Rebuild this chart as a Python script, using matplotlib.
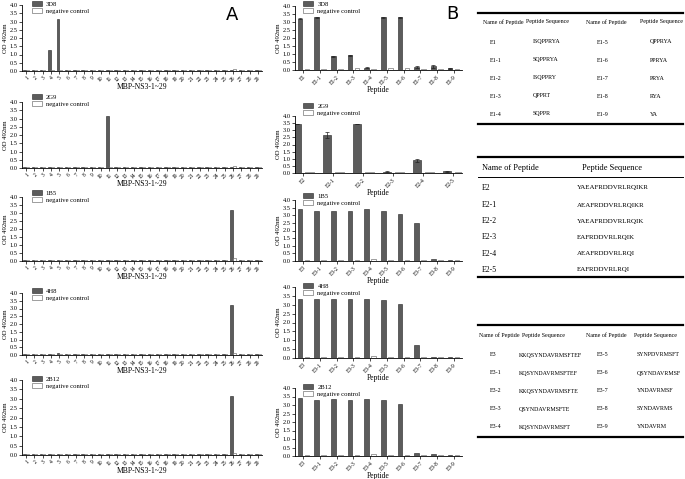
import matplotlib.pyplot as plt
import numpy as np
from matplotlib.lines import Line2D

plt.rcParams['font.family'] = ['Liberation Serif', 'DejaVu Serif']

W, H = 685, 479

# ---- panel A data: MBP-NS3-1~29 ----
a_ticks = [str(i) for i in range(1, 30)]
a_names = ['3D8', '2G9', '1B5', '4H8', '2B12']
a_3d8 = [0.08, 0.07, 0.06, 1.25, 3.15, 0.08, 0.06, 0.05, 0.06, 0.07, 0.06, 0.05, 0.07, 0.07, 0.06,
         0.06, 0.07, 0.06, 0.06, 0.05, 0.08, 0.07, 0.06, 0.06, 0.07, 0.07, 0.06, 0.07, 0.06]
a_3d8_nc = [0.05, 0.05, 0.04, 0.05, 0.06, 0.05, 0.04, 0.04, 0.05, 0.05, 0.04, 0.04, 0.05, 0.05, 0.04,
            0.05, 0.05, 0.04, 0.04, 0.05, 0.06, 0.05, 0.04, 0.05, 0.05, 0.14, 0.05, 0.05, 0.04]
a_2g9 = [0.06, 0.06, 0.05, 0.05, 0.08, 0.07, 0.05, 0.05, 0.07, 0.06, 3.15, 0.05, 0.07, 0.07, 0.06,
         0.05, 0.06, 0.05, 0.06, 0.05, 0.08, 0.07, 0.06, 0.05, 0.06, 0.07, 0.05, 0.05, 0.06]
a_2g9_nc = [0.05, 0.04, 0.04, 0.04, 0.05, 0.05, 0.04, 0.04, 0.05, 0.05, 0.05, 0.04, 0.05, 0.05, 0.04,
            0.04, 0.05, 0.04, 0.04, 0.05, 0.06, 0.05, 0.04, 0.04, 0.05, 0.15, 0.04, 0.04, 0.05]
a_1b5 = [0.08, 0.07, 0.07, 0.07, 0.08, 0.08, 0.07, 0.06, 0.07, 0.06, 0.06, 0.06, 0.07, 0.07, 0.07,
         0.07, 0.08, 0.06, 0.06, 0.07, 0.09, 0.07, 0.06, 0.07, 0.06, 3.2, 0.06, 0.06, 0.07]
a_1b5_nc = [0.05, 0.05, 0.05, 0.05, 0.06, 0.05, 0.05, 0.04, 0.05, 0.04, 0.04, 0.04, 0.05, 0.05, 0.05,
            0.05, 0.06, 0.04, 0.04, 0.05, 0.06, 0.05, 0.04, 0.05, 0.04, 0.16, 0.04, 0.04, 0.05]
a_4h8 = [0.08, 0.06, 0.06, 0.06, 0.1, 0.06, 0.05, 0.06, 0.08, 0.06, 0.06, 0.06, 0.08, 0.07, 0.06,
         0.06, 0.07, 0.06, 0.05, 0.05, 0.08, 0.06, 0.06, 0.06, 0.08, 3.25, 0.06, 0.06, 0.06]
a_4h8_nc = [0.05, 0.04, 0.04, 0.04, 0.07, 0.04, 0.04, 0.04, 0.05, 0.04, 0.04, 0.04, 0.05, 0.05, 0.04,
            0.04, 0.05, 0.04, 0.04, 0.04, 0.05, 0.04, 0.04, 0.04, 0.05, 0.14, 0.04, 0.04, 0.04]
a_2b12 = [0.06, 0.06, 0.05, 0.05, 0.07, 0.06, 0.05, 0.05, 0.06, 0.06, 0.05, 0.05, 0.06, 0.06, 0.06,
          0.05, 0.06, 0.05, 0.05, 0.05, 0.07, 0.06, 0.05, 0.05, 0.06, 3.15, 0.05, 0.05, 0.05]
a_2b12_nc = [0.04, 0.04, 0.04, 0.04, 0.05, 0.04, 0.04, 0.04, 0.04, 0.04, 0.04, 0.04, 0.05, 0.04, 0.04,
             0.04, 0.04, 0.04, 0.04, 0.04, 0.05, 0.04, 0.04, 0.04, 0.04, 0.13, 0.04, 0.04, 0.04]
a_vals = [a_3d8, a_2g9, a_1b5, a_4h8, a_2b12]
a_ncs = [a_3d8_nc, a_2g9_nc, a_1b5_nc, a_4h8_nc, a_2b12_nc]

# ---- panel B data ----
b1_ticks = ['E1', 'E1-1', 'E1-2', 'E1-3', 'E1-4', 'E1-5', 'E1-6', 'E1-7', 'E1-8', 'E1-9']
b1_3d8 = [3.2, 3.3, 0.85, 0.92, 0.15, 3.3, 3.3, 0.2, 0.22, 0.12]
b1_3d8_err = [0.02, 0.02, 0.03, 0.03, 0.03, 0.02, 0.02, 0.08, 0.1, 0.03]
b1_nc = [0.05, 0.07, 0.05, 0.1, 0.05, 0.1, 0.15, 0.05, 0.05, 0.05]

b2_ticks = ['E2', 'E2-1', 'E2-2', 'E2-3', 'E2-4', 'E2-5']
b2_2g9 = [3.45, 2.65, 3.43, 0.1, 0.9, 0.12]
b2_2g9_err = [0.02, 0.2, 0.02, 0.02, 0.1, 0.02]
b2_nc = [0.08, 0.1, 0.08, 0.07, 0.08, 0.07]

b3_ticks = ['E3', 'E3-1', 'E3-2', 'E3-3', 'E3-4', 'E3-5', 'E3-6', 'E3-7', 'E3-8', 'E3-9']
b3_1b5 = [3.4, 3.3, 3.3, 3.3, 3.4, 3.3, 3.1, 2.5, 0.1, 0.08]
b3_1b5_nc = [0.08, 0.06, 0.06, 0.06, 0.14, 0.06, 0.08, 0.05, 0.05, 0.05]
b4_4h8 = [3.35, 3.3, 3.35, 3.3, 3.32, 3.25, 3.05, 0.75, 0.08, 0.06]
b4_4h8_nc = [0.08, 0.05, 0.05, 0.05, 0.1, 0.06, 0.08, 0.05, 0.05, 0.04]
b5_2b12 = [3.4, 3.3, 3.35, 3.3, 3.35, 3.28, 3.05, 0.15, 0.12, 0.06]
b5_2b12_nc = [0.08, 0.05, 0.06, 0.06, 0.1, 0.07, 0.08, 0.05, 0.05, 0.04]

# ---- tables ----
t1_names_l = ['E1', 'E1-1', 'E1-2', 'E1-3', 'E1-4']
t1_seq_l = ['ISQPPRYA', 'SQPPRYA', 'ISQPPRY', 'QPPRT', 'SQPPR']
t1_names_r = ['E1-5', 'E1-6', 'E1-7', 'E1-8', 'E1-9']
t1_seq_r = ['QPPRYA', 'PPRYA', 'PRYA', 'RYA', 'YA']
t2_names = ['E2', 'E2-1', 'E2-2', 'E2-3', 'E2-4', 'E2-5']
t2_seq = ['YAEAFRDDVRLRQIKR', 'AEAFRDDVRLRQIKR', 'YAEAFRDDVRLRQIK', 'EAFRDDVRLRQIK',
          'AEAFRDDVRLRQI', 'EAFRDDVRLRQI']
t3_names_l = ['E3', 'E3-1', 'E3-2', 'E3-3', 'E3-4']
t3_seq_l = ['KKQSYNDAVRMSFTEF', 'KQSYNDAVRMSFTEF', 'KKQSYNDAVRMSFTE', 'QSYNDAVRMSFTE', 'KQSYNDAVRMSFT']
t3_names_r = ['E3-5', 'E3-6', 'E3-7', 'E3-8', 'E3-9']
t3_seq_r = ['SYNPDVRMSFT', 'QSYNDAVRMSF', 'YNDAVRMSF', 'SYNDAVRMS', 'YNDAVRM']

fig = plt.figure(figsize=(W / 100, H / 100), dpi=100)
fig.patch.set_facecolor('white')


def px_axes(x0, y0, x1, y1):
    return fig.add_axes([x0 / W, 1 - y1 / H, (x1 - x0) / W, (y1 - y0) / H])


def bar_panel(ax, ticks, vals, nc, name, xlabel, width, off, box, err=None, xlim=None,
              tfs=4.0, lx=0.04, lup=5):
    x0, y0, x1, y1 = box
    x = np.arange(len(ticks))
    ax.bar(x - off / 2, vals, width, color='#5c5c5c', edgecolor='#222222', linewidth=0.4,
           label=name, yerr=err, error_kw=dict(elinewidth=0.5, capsize=1.2, capthick=0.5, ecolor='#222222'))
    ax.bar(x + off / 2, nc, width, color='white', edgecolor='#555555', linewidth=0.4,
           label='negative control')
    ax.set_ylim(0, 4)
    ax.set_yticks(np.arange(0, 4.01, 0.5))
    ax.set_yticklabels(['%.1f' % v for v in np.arange(0, 4.01, 0.5)], fontsize=4.6)
    ax.set_xticks(x)
    ax.set_xticklabels(ticks, rotation=45, fontsize=tfs, ha='right', rotation_mode='anchor')
    if xlim is None:
        ax.set_xlim(-0.5, len(ticks) - 0.5)
    else:
        ax.set_xlim(*xlim)
    ax.set_ylabel('OD 492nm', fontsize=4.8, labelpad=1)
    ax.set_xlabel(xlabel, fontsize=5.5, labelpad=0.5)
    for s in ['top', 'right']:
        ax.spines[s].set_visible(False)
    for s in ['left', 'bottom']:
        ax.spines[s].set_linewidth(0.6)
    ax.tick_params(length=2, width=0.5, pad=1)
    top = 1 + lup / (y1 - y0)
    ax.legend(loc='upper left', bbox_to_anchor=(lx, top), fontsize=4.8, frameon=False,
              handlelength=1.5, handleheight=0.7, handletextpad=0.6, labelspacing=0.25,
              borderaxespad=0, borderpad=0)


# column A
a_rows = [(5, 71), (102, 168), (197, 261), (293, 355), (380, 455)]
a_lup = [4, 8, 7, 5, 4]
for (y0, y1), name, v, nc, lu in zip(a_rows, a_names, a_vals, a_ncs, a_lup):
    box = (22, y0, 262, y1)
    ax = px_axes(*box)
    bar_panel(ax, a_ticks, v, nc, name, 'MBP-NS3-1~29', 0.3, 0.36, box, lx=0.04, lup=lu)

# column B
b_rows = [(6, 70), (116, 173), (200, 261), (287, 358), (388, 456)]
b_lup = [5, 13, 7, 4, 4]
b_sets = [(b1_ticks, b1_3d8, b1_nc, '3D8', b1_3d8_err, None),
          (b2_ticks, b2_2g9, b2_nc, '2G9', b2_2g9_err, (-0.27, 5.3)),
          (b3_ticks, b3_1b5, b3_1b5_nc, '1B5', None, None),
          (b3_ticks, b4_4h8, b4_4h8_nc, '4H8', None, None),
          (b3_ticks, b5_2b12, b5_2b12_nc, '2B12', None, None)]
for (y0, y1), (tk, v, nc, name, err, xl), lu in zip(b_rows, b_sets, b_lup):
    box = (295, y0, 462, y1)
    ax = px_axes(*box)
    bar_panel(ax, tk, v, nc, name, 'Peptide', 0.28, 0.42, box, err=err, xlim=xl, lx=0.05, lup=lu)

fig.text(232 / W, 1 - 15 / H, 'A', fontsize=13, family='DejaVu Sans', ha='center', va='center')
fig.text(452 / W, 1 - 14 / H, 'B', fontsize=13, family='DejaVu Sans', ha='center', va='center')


def hline(y, x0=478, x1=683, lw=1.6):
    fig.add_artist(Line2D([x0 / W, x1 / W], [1 - y / H, 1 - y / H], color='black', lw=lw,
                          transform=fig.transFigure))


def ptext(x, y, s, fs=4.3, ha='left'):
    fig.text(x / W, 1 - y / H, s, fontsize=fs, ha=ha, va='center')


# table 1
hline(13)
hline(124)
ptext(503, 22, 'Name of Peptide', ha='center')
ptext(547, 22, 'Peptide Sequence', ha='center')
ptext(606, 22, 'Name of Peptide', ha='center')
ptext(662, 22, 'Peptide Sequence', ha='center')
t1_y = [42, 60, 78, 96, 114]
for y, n1, s1, n2, s2 in zip(t1_y, t1_names_l, t1_seq_l, t1_names_r, t1_seq_r):
    ptext(490, y, n1)
    ptext(533, y, s1)
    ptext(597, y, n2)
    ptext(650, y, s2)

# table 2
hline(157)
hline(177, lw=0.7)
hline(277)
ptext(482, 168, 'Name of Peptide', fs=6.0)
ptext(612, 168, 'Peptide Sequence', fs=6.0, ha='center')
t2_y = [188, 205, 221, 237, 254, 270]
for y, n, s in zip(t2_y, t2_names, t2_seq):
    ptext(482, y, n, fs=5.6)
    ptext(577, y, s, fs=5.0)

# table 3
hline(325)
hline(437)
ptext(499, 335, 'Name of Peptide', ha='center')
ptext(543, 335, 'Peptide Sequence', ha='center')
ptext(606, 335, 'Name of Peptide', ha='center')
ptext(656, 335, 'Peptide Sequence', ha='center')
t3_y = [355, 373, 391, 409, 427]
for y, n1, s1, n2, s2 in zip(t3_y, t3_names_l, t3_seq_l, t3_names_r, t3_seq_r):
    ptext(490, y, n1)
    ptext(519, y, s1)
    ptext(597, y, n2)
    ptext(637, y, s2)

fig.savefig('out.png', dpi=100)
